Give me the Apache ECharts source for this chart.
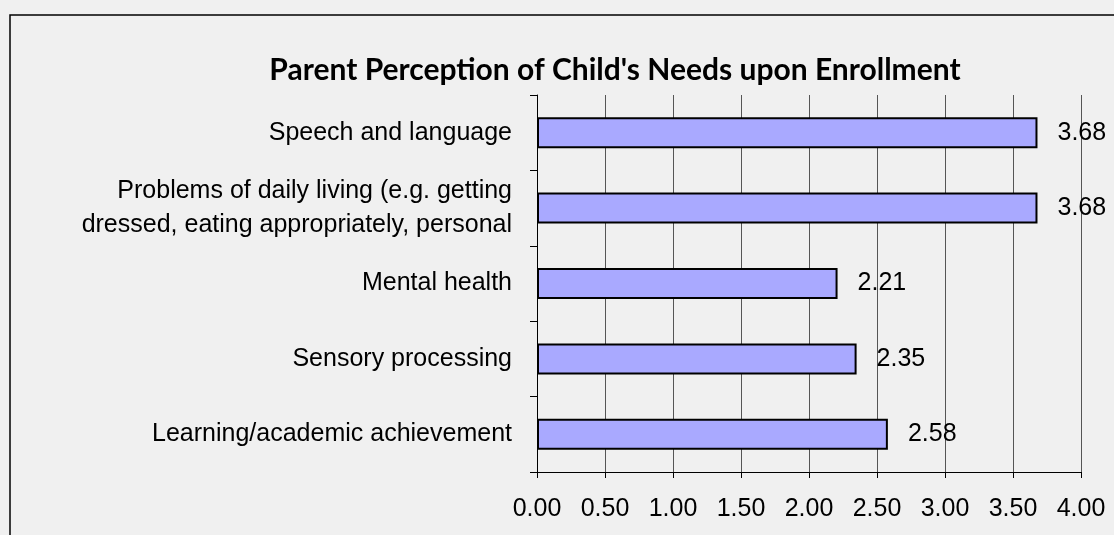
<!DOCTYPE html>
<html>
<head>
<meta charset="utf-8">
<script src="https://cdn.jsdelivr.net/npm/echarts@6/dist/echarts.min.js"></script>
<style>
html,body{margin:0;padding:0;background:#f0f0f0;}
#chart{width:1114px;height:535px;}
</style>
</head>
<body>
<div id="chart"></div>
<script>
// categories top to bottom
var categories = [
	"Speech and language",
	"Problems of daily living (e.g. getting\ndressed, eating appropriately, personal",
	"Mental health",
	"Sensory processing",
	"Learning/academic achievement"
];
var values = [3.68, 3.68, 2.21, 2.35, 2.58];
var tickLabels = ["0.00","0.50","1.00","1.50","2.00","2.50","3.00","3.50","4.00"];

var chart = echarts.init(document.getElementById("chart"));
var option = {
	backgroundColor: '#f0f0f0',
	animation: false,
	title: {
		text: "Parent Perception of Child's Needs upon Enrollment",
		left: 610,
		textAlign: 'center',
		top: 50,
		textStyle: {fontFamily: 'Lato', fontWeight: 'bold', fontSize: 30, color: '#000'}
	},
	graphic: [{
		type: 'rect',
		shape: {x: 10, y: 15, width: 1300, height: 700},
		style: {fill: 'none', stroke: '#000', lineWidth: 1.5},
		silent: true
	}],
	grid: {left: 537, right: 33, top: 95, bottom: 63},
	xAxis: {
		type: 'value',
		min: 0, max: 4, interval: 0.5,
		axisLine: {show: true, lineStyle: {color: '#000', width: 1}},
		axisTick: {show: true, length: 6, lineStyle: {color: '#000'}},
		splitLine: {show: true, lineStyle: {color: '#555', width: 1}},
		axisLabel: {
			fontFamily: 'Liberation Sans', fontSize: 25, color: '#000', margin: 25,
			formatter: function(v){ return tickLabels[Math.round(v / 0.5)]; }
		}
	},
	yAxis: {
		type: 'category',
		inverse: true,
		data: categories,
		axisLine: {show: true, lineStyle: {color: '#000', width: 1}},
		axisTick: {show: true, length: 7, lineStyle: {color: '#000'}},
		axisLabel: {
			fontFamily: 'Liberation Sans', fontSize: 25, color: '#000', margin: 25,
			lineHeight: 34, align: 'right'
		}
	},
	series: [{
		type: 'bar',
		data: values,
		barWidth: 31,
		itemStyle: {color: '#a9a9ff', borderColor: '#000', borderWidth: 2},
		label: {
			show: true, position: 'right', distance: 20,
			fontFamily: 'Liberation Sans', fontSize: 25, color: '#000',
			formatter: function(p){ return p.value.toFixed(2); }
		}
	}]
};
chart.setOption(option);
</script>
</body>
</html>
